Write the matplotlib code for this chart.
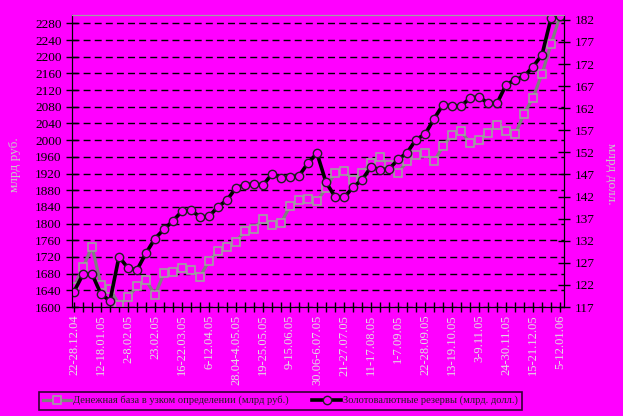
import matplotlib
matplotlib.use("Agg")
import matplotlib.pyplot as plt

plt.rcParams['font.family'] = ['Liberation Serif', 'DejaVu Serif']

# weekly data, Dec 2004 - Jan 2006
money_base = [1648, 1695, 1745, 1653, 1643, 1606, 1623, 1650, 1664, 1629,
              1681, 1683, 1693, 1689, 1673, 1710, 1734, 1745, 1756, 1783,
              1787, 1812, 1797, 1801, 1842, 1856, 1858, 1854, 1885, 1921,
              1925, 1905, 1921, 1945, 1959, 1940, 1921, 1949, 1965, 1969,
              1949, 1985, 2013, 2021, 1993, 2001, 2017, 2037, 2022, 2014,
              2063, 2102, 2159, 2230, 2298]
reserves = [120.5, 124.4, 124.5, 119.9, 118.4, 128.4, 125.8, 125.4, 129.2, 132.5,
            134.6, 136.5, 138.7, 138.9, 137.4, 137.5, 139.7, 141.2, 144.0, 144.6,
            144.9, 144.6, 147.1, 146.3, 146.4, 146.7, 149.6, 151.8, 145.2, 142.0,
            141.8, 144.1, 145.8, 148.7, 148.1, 148.2, 150.4, 151.9, 154.9, 156.1,
            159.6, 162.8, 162.5, 162.5, 164.3, 164.6, 163.1, 163.1, 167.3, 168.4,
            169.2, 171.4, 174.1, 182.4, 182.8]
week_labels = ["22-28.12.04", "12-18.01.05", "2-8.02.05", "23.02.05", "16-22.03.05",
               "6-12.04.05", "28.04-4.05.05", "19-25.05.05", "9-15.06.05",
               "30.06-6.07.05", "21-27.07.05", "11-17.08.05", "1-7.09.05",
               "22-28.09.05", "13-19.10.05", "3-9.11.05", "24-30.11.05",
               "15-21.12.05", "5-12.01.06"]

mag = '#ff00ff'
x = list(range(len(money_base)))

fig = plt.figure(figsize=(6.23, 4.16), dpi=100, facecolor=mag)
ax = fig.add_axes([0.1156, 0.262, 0.7897, 0.702], facecolor=mag)
ax2 = ax.twinx()

l1, = ax.plot(x, money_base, color='#808080', lw=2.3, marker='s', ms=5.5,
              mfc=mag, mec='#a0a0a0', mew=1.2)
l2, = ax2.plot(x, reserves, color='black', lw=2.6, marker='o', ms=6,
               mfc=mag, mec='#202020', mew=1.0)

ax.set_xlim(-0.22, 54.44)
ax.set_ylim(1600, 2300)
ax.set_yticks(range(1600, 2281, 40))
ax.grid(axis='y', color='black', ls=(0, (5, 3)), lw=1)
ax.set_xticks(x[::3])
ax.set_xticks(x, minor=True)
ax.set_xticklabels(week_labels, rotation=90, color='#e0e0e0', fontsize=9)
ax.tick_params(axis='x', which='both', direction='inout', length=7, width=1, pad=2)
ax.tick_params(axis='y', direction='inout', length=8, width=1, labelsize=9.5)

ax2.set_ylim(117, 183.1)
ax2.set_yticks(range(117, 183, 5))
ax2.tick_params(axis='y', direction='inout', length=8, width=1, labelsize=9.5)

fig.text(15 / 623, 1 - 165 / 416, "млрд руб.", color='#c8c8c8', fontsize=9.5,
         rotation=90, ha='center', va='center')
fig.text(611 / 623, 1 - 174 / 416, "млрд долл.", color='#c8c8c8', fontsize=9.5,
         rotation=270, ha='center', va='center')

for a in (ax, ax2):
    for s in ('left', 'right', 'bottom'):
        a.spines[s].set_color('black')
    a.spines['top'].set_color('#a0a0a0')

leg = fig.legend([l1, l2],
                 ["Денежная база в узком определении (млрд руб.)",
                  "Золотовалютные резервы (млрд. долл.)"],
                 loc='center', bbox_to_anchor=(0.450, 0.037), ncol=2,
                 frameon=True, fancybox=False, fontsize=7.6,
                 handlelength=2.7, columnspacing=2.2, handletextpad=0.2,
                 borderpad=0.4, borderaxespad=0)
leg.get_frame().set_facecolor(mag)
leg.get_frame().set_edgecolor('black')
leg.get_frame().set_linewidth(1.2)
for t in leg.get_texts():
    t.set_color('#202020')

fig.savefig("out.png", dpi=100, facecolor=mag)
